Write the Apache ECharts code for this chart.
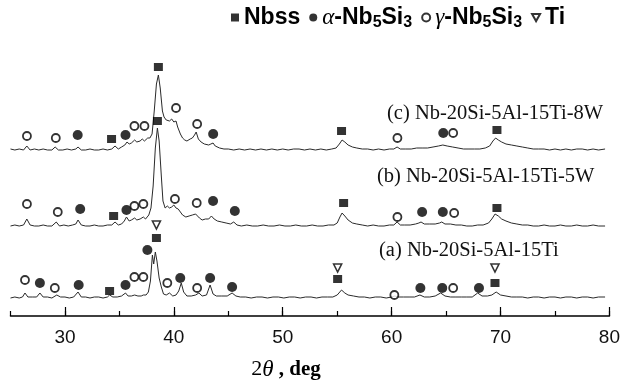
<!DOCTYPE html>
<html><head><meta charset="utf-8">
<script src="https://cdn.jsdelivr.net/npm/echarts@6/dist/echarts.min.js"></script>
<style>html,body{margin:0;padding:0;background:#fff}#c{width:623px;height:392px}</style>
</head><body><div id="c"></div>
<script>
// ---- data (2θ in degrees, intensity in arbitrary offset units) ----
const xTicks = [30, 40, 50, 60, 70, 80];
const phaseNames = ['Nbss', 'α-Nb5Si3', 'γ-Nb5Si3', 'Ti'];
const sampleLabels = ['(c) Nb-20Si-5Al-15Ti-8W', '(b) Nb-20Si-5Al-15Ti-5W', '(a) Nb-20Si-5Al-15Ti'];

const traceC = [[25.0,167],[25.4,166],[25.8,167],[26.2,166],[26.5,170],[26.8,166],[27.2,167],[27.6,166],[28.0,167],[28.4,166],[28.8,166],[29.1,169],[29.4,166],[29.8,166],[30.2,167],[30.6,166],[31.0,167],[31.2,169],[31.5,166],[31.9,166],[32.3,167],[32.7,166],[33.1,166],[33.5,167],[33.9,166],[34.3,167],[34.6,170],[34.9,167],[35.2,169],[35.5,171],[35.7,174],[35.9,172],[36.1,173],[36.4,176],[36.6,174],[36.9,175],[37.1,177],[37.3,175],[37.6,178],[37.8,178],[38.0,182],[38.2,205],[38.4,232],[38.58,241],[38.75,228],[38.95,205],[39.1,199],[39.3,196],[39.45,198],[39.6,195],[39.8,197],[40.0,194],[40.2,195],[40.35,189],[40.6,182],[40.8,178],[41.0,176],[41.2,175],[41.5,177],[41.7,178],[41.9,181],[42.05,184],[42.25,177],[42.5,174],[42.8,172],[43.2,171],[43.4,172],[43.6,173],[43.8,170],[44.2,168],[44.6,167],[45.0,167],[45.5,166],[46,167],[46.5,166],[47,167],[47.5,166],[48,167],[48.5,166],[49,167],[49.5,166],[50,167],[50.5,166],[51,167],[51.5,167],[52,166],[52.5,167],[53,166],[53.5,167],[54,166],[54.5,167],[54.9,168],[55.2,172],[55.45,176],[55.7,174],[56.0,171],[56.4,169],[56.8,168],[57.3,167],[57.8,167],[58.3,166],[58.8,167],[59.3,166],[59.8,167],[60.2,167],[60.5,169],[60.8,167],[61.3,167],[61.8,167],[62.3,168],[62.8,168],[63.3,168],[63.8,169],[64.3,170],[64.7,171],[65.1,170],[65.6,169],[66.1,168],[66.6,167],[67.1,167],[67.6,167],[68.1,167],[68.6,168],[69.0,170],[69.3,175],[69.55,178],[69.8,176],[70.1,174],[70.5,172],[71.0,171],[71.5,170],[72.0,169],[72.5,168],[73.0,167],[73.5,167],[74,167],[74.5,166],[75,167],[75.5,166],[76,167],[76.5,166],[77,167],[77.5,167],[78,166],[78.5,167],[79,166],[79.6,167]];

const traceB = [[25.0,90],[25.4,91],[25.8,90],[26.2,91],[26.5,97],[26.8,91],[27.2,90],[27.6,90],[28.0,91],[28.4,90],[28.8,90],[29.2,94],[29.5,90],[29.9,91],[30.3,90],[30.7,91],[31.0,92],[31.2,96],[31.5,91],[31.9,90],[32.3,90],[32.7,91],[33.1,90],[33.5,90],[33.9,91],[34.3,91],[34.6,94],[34.9,91],[35.2,92],[35.45,95],[35.65,99],[35.9,95],[36.1,96],[36.4,98],[36.6,96],[36.9,97],[37.2,99],[37.4,97],[37.7,101],[37.9,108],[38.1,130],[38.3,168],[38.49,188],[38.65,175],[38.85,140],[39.0,115],[39.2,108],[39.4,110],[39.6,108],[39.8,109],[40.0,111],[40.2,108],[40.4,107],[40.6,104],[40.8,101],[41.1,99],[41.4,100],[41.7,101],[42.0,102],[42.15,104],[42.35,98],[42.6,96],[42.9,97],[43.2,97],[43.45,100],[43.7,97],[44.0,95],[44.4,94],[44.8,93],[45.2,92],[45.5,94],[45.8,91],[46.2,90],[46.7,91],[47.2,90],[47.7,90],[48.2,91],[48.7,90],[49.2,90],[49.7,91],[50.2,90],[50.7,90],[51.2,91],[51.7,90],[52.2,90],[52.7,91],[53.2,90],[53.7,90],[54.2,91],[54.7,91],[55.0,93],[55.25,99],[55.45,103],[55.7,100],[56.0,96],[56.4,93],[56.8,92],[57.3,91],[57.8,90],[58.3,91],[58.8,90],[59.3,90],[59.8,91],[60.2,91],[60.5,94],[60.8,91],[61.2,91],[61.7,91],[62.2,92],[62.5,93],[62.7,94],[63.0,92],[63.5,92],[64.0,92],[64.4,93],[64.6,94],[64.9,92],[65.4,92],[65.9,91],[66.4,91],[66.9,90],[67.4,90],[67.9,91],[68.4,91],[68.9,93],[69.2,97],[69.5,102],[69.8,100],[70.1,97],[70.5,95],[71.0,93],[71.5,92],[72.0,91],[72.5,91],[73.0,90],[73.5,90],[74,91],[74.5,90],[75,90],[75.5,91],[76,90],[76.5,90],[77,91],[77.5,90],[78,90],[78.5,91],[79,90],[79.6,90]];

const traceA = [[25.0,18],[25.4,19],[25.8,18],[26.1,19],[26.33,23],[26.6,19],[27.0,19],[27.4,19],[27.7,23],[28.0,19],[28.4,19],[28.8,18],[29.25,21],[29.6,19],[30.0,19],[30.4,18],[30.8,19],[31.2,24],[31.5,19],[31.9,19],[32.3,18],[32.7,19],[33.1,19],[33.5,18],[33.9,19],[34.1,21],[34.4,19],[34.8,19],[35.2,20],[35.56,23],[35.8,20],[36.1,20],[36.4,21],[36.7,20],[37.0,20],[37.2,21],[37.45,21],[37.66,24],[37.85,35],[38.03,61],[38.15,52],[38.3,64],[38.45,55],[38.65,38],[38.85,29],[39.05,22],[39.3,21],[39.6,23],[39.9,20],[40.2,21],[40.45,25],[40.68,33],[40.9,24],[41.2,20],[41.6,20],[42.0,21],[42.3,23],[42.6,20],[43.0,21],[43.33,31],[43.6,22],[43.9,20],[44.4,20],[44.9,20],[45.35,23],[45.7,20],[46.1,19],[46.6,19],[47.1,18],[47.6,19],[48.1,19],[48.6,18],[49.1,19],[49.6,19],[50.1,18],[50.6,19],[51.1,19],[51.6,18],[52.1,19],[52.6,19],[53.1,18],[53.6,19],[54.1,19],[54.6,19],[55.0,21],[55.4,26],[55.7,23],[56.0,21],[56.5,20],[57.0,19],[57.5,19],[58.0,18],[58.5,19],[59.0,19],[59.5,18],[60.0,19],[60.3,20],[60.6,19],[61.1,19],[61.6,19],[62.1,19],[62.6,21],[63.0,19],[63.5,19],[64.0,20],[64.5,23],[64.9,20],[65.4,19],[65.9,19],[66.4,19],[66.9,19],[67.4,19],[67.9,23],[68.3,20],[68.8,20],[69.2,21],[69.6,24],[70.0,21],[70.5,20],[71.0,19],[71.5,19],[72.0,19],[72.5,18],[73.0,19],[73.5,19],[74,18],[74.5,19],[75,19],[75.5,18],[76,19],[76.5,19],[77,18],[77.5,19],[78,19],[78.5,18],[79,19],[79.6,19]];

// phase markers [2θ, height]
const nbssMarks = [[34.28,177],[38.58,249],[55.4,185],[69.67,186],
                   [34.47,100],[38.49,195],[55.59,113],[69.67,108],
                   [34.1,25],[38.4,78],[55.04,37],[69.49,33]];
const alphaMarks = [[31.17,181],[35.56,181],[43.61,182],[64.74,183],
                    [31.4,107],[35.65,106],[43.6,115],[45.6,105],[62.8,104],[64.7,104],
                    [27.7,33],[31.26,31],[35.56,31],[37.57,66],[40.59,38],[43.33,38],[45.35,29],[62.64,28],[64.65,28],[68.02,28]];
const gammaMarks = [[26.51,180],[29.16,178],[36.38,190],[37.3,190],[40.2,208],[42.14,192],[60.53,178],[65.65,183],
                    [26.51,112],[29.34,104],[36.38,110],[37.2,112],[40.1,117],[42.1,113],[60.53,99],[65.74,103],
                    [26.33,36],[29.07,28],[36.38,39],[37.2,39],[39.4,33],[42.14,28],[60.25,21],[65.65,28]];
const tiMarks = [[38.4,91],[55.04,48],[69.49,48]];

// ---- chart ----
const SANS = "'Liberation Sans',Arial,sans-serif";
const SERIF = "'Liberation Serif','Times New Roman',serif";
const lineStyle = {color:'#2a2a2a', width:1};
function traceSeries(d){
  return {type:'line', data:d, showSymbol:false, symbol:'none', lineStyle:lineStyle, z:2, silent:true, animation:false};
}
const chart = echarts.init(document.getElementById('c'), null, {renderer:'canvas'});
chart.setOption({
  backgroundColor:'#fff',
  animation:false,
  grid:{left:10.5, right:11, top:16, bottom:76},
  legend:{
    data: phaseNames, left:226, top:1, itemWidth:8, itemHeight:8, itemGap:9,
    selectedMode:false,
    formatter:function(name){
      if(name==='Nbss' || name==='Ti') return '{b|'+name+'}';
      return '{g|'+name[0]+'}{b|-Nb}{s|5}{b|Si}{s|3}';
    },
    textStyle:{
      color:'#000',
      rich:{
        b:{fontFamily:SANS, fontWeight:'bold', fontSize:23, lineHeight:26, color:'#000'},
        g:{fontFamily:SERIF, fontStyle:'italic', fontSize:23, lineHeight:26, color:'#000'},
        s:{fontFamily:SANS, fontWeight:'bold', fontSize:16, lineHeight:18, verticalAlign:'bottom', color:'#000'}
      }
    }
  },
  xAxis:[{
    type:'value', min:25, max:80, interval:5,
    axisLine:{show:true, onZero:false, lineStyle:{color:'#000', width:1.5}},
    axisTick:{show:true, inside:true, length:5, lineStyle:{color:'#000', width:1.2}},
    axisLabel:{formatter:function(v){return v%10===0 ? String(v) : '';}, fontFamily:SANS, fontSize:19, color:'#111', margin:12},
    splitLine:{show:false},
    name:'{n|2}{t|θ}{c| , deg}', nameLocation:'middle', nameGap:42,
    nameTextStyle:{padding:[0,48,0,0], rich:{
      n:{fontFamily:SERIF, fontSize:22, color:'#000'},
      t:{fontFamily:SERIF, fontStyle:'italic', fontSize:23, color:'#000'},
      c:{fontFamily:SERIF, fontWeight:'bold', fontSize:21, color:'#000'}
    }}
  },{
    type:'value', min:25, max:80, position:'bottom',
    axisLine:{show:false}, axisLabel:{show:false}, splitLine:{show:false},
    axisTick:{show:true, inside:true, length:9, customValues:xTicks, lineStyle:{color:'#000', width:1.2}}
  }],
  yAxis:{type:'value', min:0, max:300, show:false},
  graphic: sampleLabels.map(function(t,i){
    return {type:'text', left:[387,377,379][i], top:[103,166,240][i], z:10,
      style:{text:t, font:'20.5px '+SERIF, fill:'#111'}};
  }),
  series:[
    traceSeries(traceC), traceSeries(traceB), traceSeries(traceA),
    {name:phaseNames[0], type:'scatter', data:nbssMarks, symbol:'rect', symbolSize:[9,8], z:5,
      itemStyle:{color:'#000'}},
    {name:phaseNames[1], type:'scatter', data:alphaMarks, symbol:'circle', symbolSize:10, z:5,
      itemStyle:{color:'#000'}},
    {name:phaseNames[2], type:'scatter', data:gammaMarks, symbol:'circle', symbolSize:8, z:5,
      itemStyle:{color:'#fff', borderColor:'#000', borderWidth:1.8}},
    {name:phaseNames[3], type:'scatter', data:tiMarks, symbol:'path://M0,0L10,0L5,9Z', symbolSize:[8,8], z:5,
      itemStyle:{color:'#fff', borderColor:'#000', borderWidth:1.6}}
  ]
});
</script>
</body></html>
